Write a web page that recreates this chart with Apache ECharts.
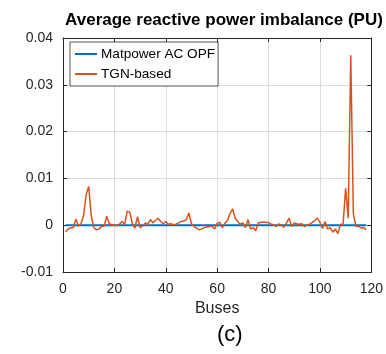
<!DOCTYPE html>
<html><head><meta charset="utf-8">
<script src="https://cdn.jsdelivr.net/npm/echarts@6/dist/echarts.min.js"></script>
<style>html,body{margin:0;padding:0;background:#fff}#c{width:386px;height:354px}</style>
</head><body><div id="c"></div>
<script>
const titleText = 'Average reactive power imbalance (PU)';
const seriesNames = ['Matpower AC OPF', 'TGN-based'];
const xTicks = [0, 20, 40, 60, 80, 100, 120];
const yTickLabels = ['-0.01', '0', '0.01', '0.02', '0.03', '0.04'];
// per-bus values (x 0.001 PU), buses 1..118
const tgnMilli = [
 -1.4,-0.8,-0.6,-0.5,1.3,-0.2,0.3,2.0,6.5,8.3,
 2.0,-0.5,-1.0,-0.8,-0.3,-0.2,1.9,0.3,0.1,0.0,
 -0.1,0.2,0.8,0.2,3.0,2.8,0.3,-0.6,1.8,-0.5,
 -0.2,0.5,0.2,1.2,0.5,1.0,1.5,0.8,0.3,0.8,
 0.2,0.3,0.1,0.2,0.5,0.8,0.9,1.2,2.6,0.3,
 -0.3,-0.6,-1.0,-0.8,-0.5,-0.4,-0.3,-0.2,-0.8,0.4,
 0.6,-0.5,0.4,1.0,2.5,3.5,1.5,0.8,0.2,0.5,
 -0.5,1.2,-0.8,-0.5,-1.2,0.5,0.6,0.7,0.6,0.6,
 0.2,0.1,-0.3,0.3,0.0,-0.4,0.5,1.5,-0.3,0.5,
 0.3,0.2,0.3,-0.3,0.1,0.2,0.6,1.0,1.5,0.6,
 -0.7,0.8,-0.8,-0.5,-1.5,-0.8,-1.8,0.2,0.2,7.9,
 1.5,36.3,2.5,-0.3,-0.2,-0.6,-0.5,-1.0
];
const matpowerMilli = tgnMilli.map(() => 0);

const buses = tgnMilli.map((_, i) => i + 1);
const tgnData = buses.map((b, i) => [b, tgnMilli[i] / 1000]);
const mpData = buses.map((b, i) => [b, matpowerMilli[i] / 1000]);

const font = 'Liberation Sans, Arial, Helvetica, sans-serif';
const chart = echarts.init(document.getElementById('c'), null, {renderer: 'canvas'});
const axisCommon = {
  axisLine: {show: true, onZero: false, lineStyle: {color: '#262626', width: 1}},
  axisTick: {show: true, inside: true, length: 4, lineStyle: {color: '#262626', width: 1}},
};
chart.setOption({
  animation: false,
  title: {text: titleText, left: 219, textAlign: 'center', top: 7,
    textStyle: {fontFamily: font, fontSize: 17, fontWeight: 'bold', color: '#000'}},
  grid: {left: 63, right: 9, top: 38, bottom: 82, show: false},
  legend: {
    show: true, orient: 'vertical', left: 70, top: 42,
    data: seriesNames,
    icon: 'rect', itemWidth: 22, itemHeight: 2, itemGap: 6,
    backgroundColor: '#fff', borderColor: '#262626', borderWidth: 0.8,
    padding: [5, 3, 5, 5],
    textStyle: {fontFamily: font, fontSize: 13.6, color: '#000', padding: [0, 0, 0, -1]}
  },
  xAxis: [{
    type: 'value', min: 0, max: 120, interval: 20,
    ...axisCommon,
    splitLine: {show: true, lineStyle: {color: '#dcdcdc', width: 1}},
    axisLabel: {fontFamily: font, fontSize: 14, color: '#262626', margin: 10,
      formatter: v => xTicks.includes(v) ? String(v) : ''},
    name: 'Buses', nameLocation: 'middle', nameGap: 27,
    nameTextStyle: {fontFamily: font, fontSize: 16, color: '#262626'}
  }, {
    type: 'value', position: 'top', min: 0, max: 120, interval: 20,
    ...axisCommon, axisLabel: {show: false}, splitLine: {show: false}
  }],
  yAxis: [{
    type: 'value', min: -0.01, max: 0.04, interval: 0.01,
    ...axisCommon,
    splitLine: {show: true, lineStyle: {color: '#dcdcdc', width: 1}},
    axisLabel: {fontFamily: font, fontSize: 14, color: '#262626', margin: 10,
      formatter: v => yTickLabels[Math.round((v + 0.01) / 0.01)] || ''}
  }, {
    type: 'value', position: 'right', min: -0.01, max: 0.04, interval: 0.01,
    ...axisCommon, axisLabel: {show: false}, splitLine: {show: false}
  }],
  graphic: [{
    type: 'text', left: 217, top: 324,
    style: {text: '(c)', fontFamily: font, fontSize: 22, fill: '#000', textAlign: 'center'}
  }],
  series: [{
    name: seriesNames[0], type: 'line', data: mpData, showSymbol: false,
    lineStyle: {color: '#0072BD', width: 2}, itemStyle: {color: '#0072BD'}, z: 3
  }, {
    name: seriesNames[1], type: 'line', data: tgnData, showSymbol: false,
    lineStyle: {color: '#D95319', width: 1.5}, itemStyle: {color: '#D95319'}, z: 4
  }]
});
</script></body></html>
